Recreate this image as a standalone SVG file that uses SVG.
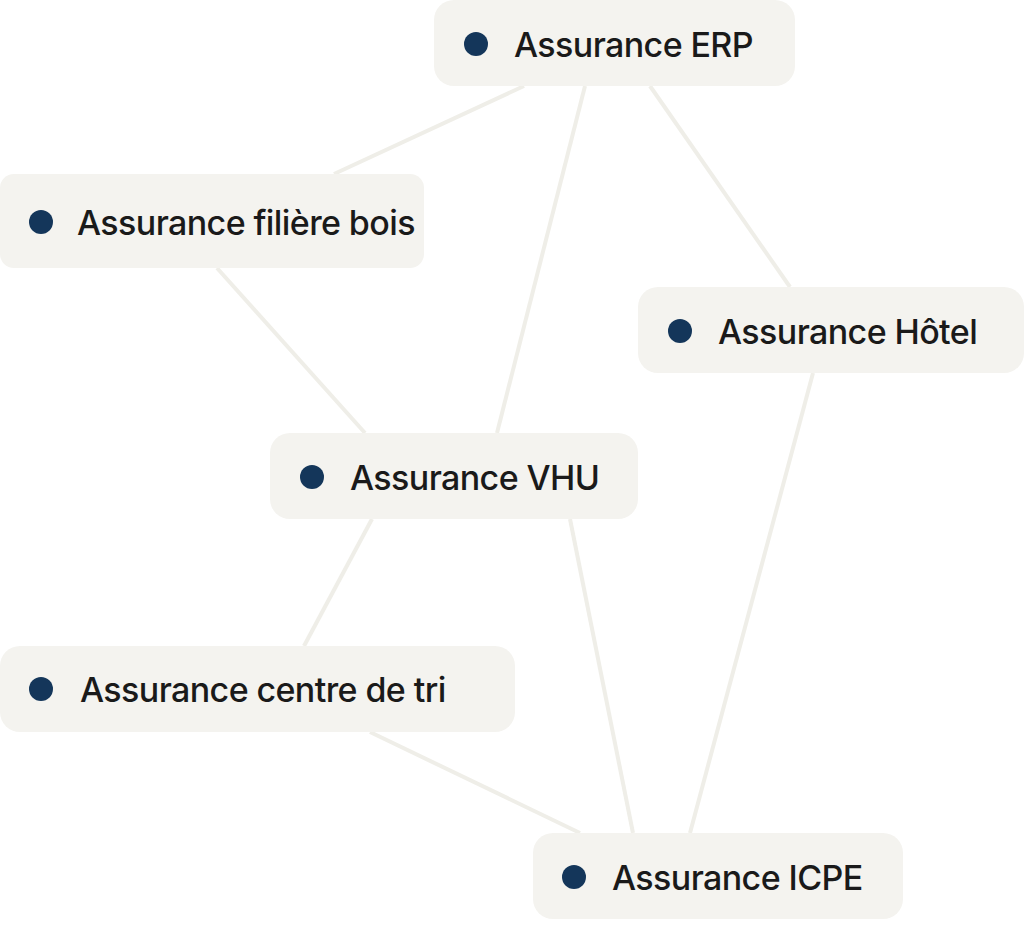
<svg xmlns="http://www.w3.org/2000/svg" width="1024" height="925" viewBox="0 0 1024 925">
<style>
.b{fill:#f4f3ef}
.d{fill:#14365a}
.t{font-family:Inter,"Noto Sans",sans-serif;font-size:34px;font-weight:500;fill:#1a1a1a;letter-spacing:-0.6px}
.c line{stroke:#efeee8;stroke-width:4}
</style>
<rect width="1024" height="925" fill="#fff"/>
<g class="c" id="connectors">
<line x1="524" y1="86" x2="334" y2="174"/>
<line x1="585" y1="86" x2="497" y2="433"/>
<line x1="650" y1="86" x2="790" y2="287"/>
<line x1="217" y1="268" x2="365" y2="433"/>
<line x1="813" y1="373" x2="690" y2="833"/>
<line x1="372" y1="519" x2="304" y2="646"/>
<line x1="570" y1="519" x2="633" y2="833"/>
<line x1="370" y1="732" x2="580" y2="833"/>
</g>
<g id="erp"><rect class="b" x="434" y="0" width="361" height="86" rx="20"/><circle class="d" cx="476" cy="44" r="12"/><text class="t" x="514" y="57">Assurance ERP</text></g>
<g id="bois"><rect class="b" x="0" y="174" width="424" height="94" rx="14"/><circle class="d" cx="41" cy="222" r="12"/><text class="t" x="77" y="235">Assurance filière bois</text></g>
<g id="hotel"><rect class="b" x="638" y="287" width="386" height="86" rx="20"/><circle class="d" cx="680" cy="331" r="12"/><text class="t" x="718" y="344">Assurance Hôtel</text></g>
<g id="vhu"><rect class="b" x="270" y="433" width="368" height="86" rx="20"/><circle class="d" cx="312" cy="477" r="12"/><text class="t" x="350" y="490">Assurance VHU</text></g>
<g id="tri"><rect class="b" x="0" y="646" width="515" height="86" rx="20"/><circle class="d" cx="41" cy="689" r="12"/><text class="t" x="80" y="702">Assurance centre de tri</text></g>
<g id="icpe"><rect class="b" x="533" y="833" width="370" height="86" rx="20"/><circle class="d" cx="574" cy="877" r="12"/><text class="t" x="612" y="890">Assurance ICPE</text></g>
</svg>
